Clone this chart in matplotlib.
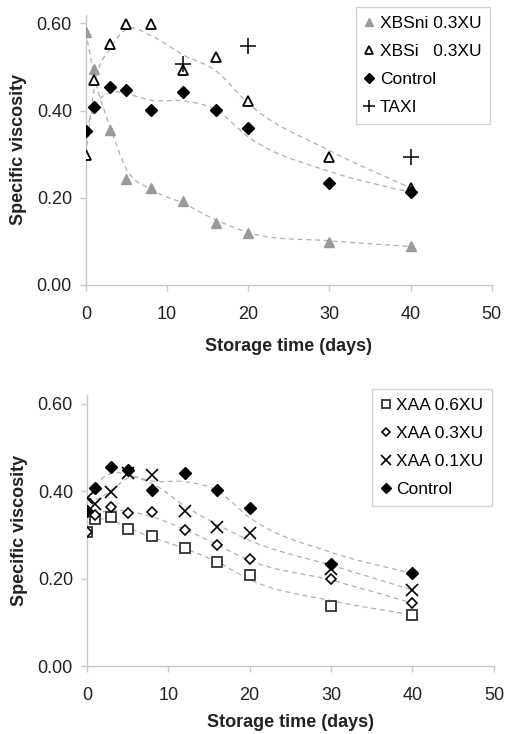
import numpy as np
import matplotlib
matplotlib.use('Agg')
import matplotlib.pyplot as plt

plt.rcParams['font.family'] = ['Liberation Sans', 'DejaVu Sans']

# storage days and specific viscosity readings
days = [0, 1, 3, 5, 8, 12, 16, 20, 30, 40]
xbsni = [0.580, 0.495, 0.355, 0.243, 0.222, 0.192, 0.142, 0.120, 0.098, 0.088]
xbsi = [0.299, 0.469, 0.552, 0.598, 0.598, 0.494, 0.524, 0.423, 0.294, 0.222]
control = [0.354, 0.407, 0.455, 0.448, 0.402, 0.442, 0.402, 0.361, 0.234, 0.212]
taxi_days = [12, 20, 40]
taxi = [0.506, 0.549, 0.294]

xaa_06 = [0.307, 0.337, 0.341, 0.314, 0.298, 0.270, 0.238, 0.208, 0.137, 0.117]
xaa_03 = [0.307, 0.345, 0.364, 0.350, 0.353, 0.311, 0.277, 0.245, 0.199, 0.144]
xaa_01 = [0.385, 0.371, 0.398, 0.442, 0.437, 0.355, 0.318, 0.305, 0.222, 0.174]

GRID = '#c8c8c8'
TREND = '#b0b0b0'


def trend(x, y, n=25):
    # light 3-point smoothing, then a cubic hermite curve through it
    x = np.asarray(x, float)
    y = np.asarray(y, float)
    s = y.copy()
    s[1:-1] = 0.25 * y[:-2] + 0.5 * y[1:-1] + 0.25 * y[2:]
    m = np.gradient(s, x)
    xs, ys = [], []
    t = np.linspace(0, 1, n)
    for i in range(len(x) - 1):
        h = x[i + 1] - x[i]
        h00 = 2 * t**3 - 3 * t**2 + 1
        h10 = t**3 - 2 * t**2 + t
        h01 = -2 * t**3 + 3 * t**2
        h11 = t**3 - t**2
        xs.append(x[i] + t * h)
        ys.append(h00 * s[i] + h10 * h * m[i] + h01 * s[i + 1] + h11 * h * m[i + 1])
    return np.concatenate(xs), np.concatenate(ys)


def style_axes(ax, xlabelpad):
    ax.set_xlim(0, 50)
    ax.set_ylim(0, 0.62)
    ax.set_xticks([0, 10, 20, 30, 40, 50])
    ax.set_yticks([0, 0.2, 0.4, 0.6])
    ax.set_yticklabels(['0.00', '0.20', '0.40', '0.60'])
    for side in ['top', 'right']:
        ax.spines[side].set_visible(False)
    for side in ['left', 'bottom']:
        ax.spines[side].set_color(GRID)
        ax.spines[side].set_linewidth(1.0)
    ax.tick_params(axis='both', colors=GRID, labelcolor='#222222',
                   labelsize=13, length=4, width=1.0)
    ax.tick_params(axis='x', pad=11)
    ax.tick_params(axis='y', pad=6)
    ax.set_xlabel('Storage time (days)', fontsize=13, fontweight='bold',
                  color='#222222', labelpad=xlabelpad)
    ax.set_ylabel('Specific viscosity', fontsize=13, fontweight='bold',
                  color='#222222', labelpad=7)


def boxed_legend(ax, y_top):
    leg = ax.legend(loc='upper right', bbox_to_anchor=(1.0, y_top),
                    fontsize=12.5, handlelength=0.6, handletextpad=0.3,
                    labelspacing=0.75, borderpad=0.5, borderaxespad=0.1,
                    fancybox=False, markerscale=0.8)
    leg.get_frame().set_edgecolor(GRID)
    leg.get_frame().set_linewidth(1.0)
    return leg


fig = plt.figure(figsize=(5.05, 7.34), dpi=100)
ax1 = fig.add_axes([0.170, 0.612, 0.804, 0.368])
ax2 = fig.add_axes([0.172, 0.0926, 0.806, 0.369])

# upper panel
for series in [xbsni, xbsi, control]:
    tx, ty = trend(days, series)
    ax1.plot(tx, ty, color=TREND, lw=0.9, ls=(0, (4, 3)), zorder=1)

ax1.plot(days, xbsni, '^', ms=7.5, color='#9a9a9a', mec='#9a9a9a',
         label='XBSni 0.3XU', zorder=3)
ax1.plot(days, xbsi, '^', ms=7.5, mfc='white', mec='black', mew=1.3,
         label='XBSi   0.3XU', zorder=3)
ax1.plot(days, control, 'D', ms=6, color='black', label='Control', zorder=4)
ax1.plot(taxi_days, taxi, '+', ms=11, color='black', mew=1.1,
         label='TAXI', zorder=4)
style_axes(ax1, 11)
boxed_legend(ax1, 1.035)

# lower panel
for series in [xaa_06, xaa_03, xaa_01, control]:
    tx, ty = trend(days, series)
    ax2.plot(tx, ty, color=TREND, lw=0.9, ls=(0, (4, 3)), zorder=1)

ax2.plot(days, xaa_06, 's', ms=7.5, mfc='white', mec='#333333', mew=1.3,
         label='XAA 0.6XU', zorder=3)
ax2.plot(days, xaa_03, 'D', ms=5.5, mfc='white', mec='black', mew=1.2,
         label='XAA 0.3XU', zorder=3)
ax2.plot(days, xaa_01, 'x', ms=8.5, color='black', mew=1.2,
         label='XAA 0.1XU', zorder=3)
ax2.plot(days, control, 'D', ms=6, color='black', label='Control', zorder=4)
style_axes(ax2, 7)
boxed_legend(ax2, 1.03)

fig.savefig('out.png', dpi=100)
